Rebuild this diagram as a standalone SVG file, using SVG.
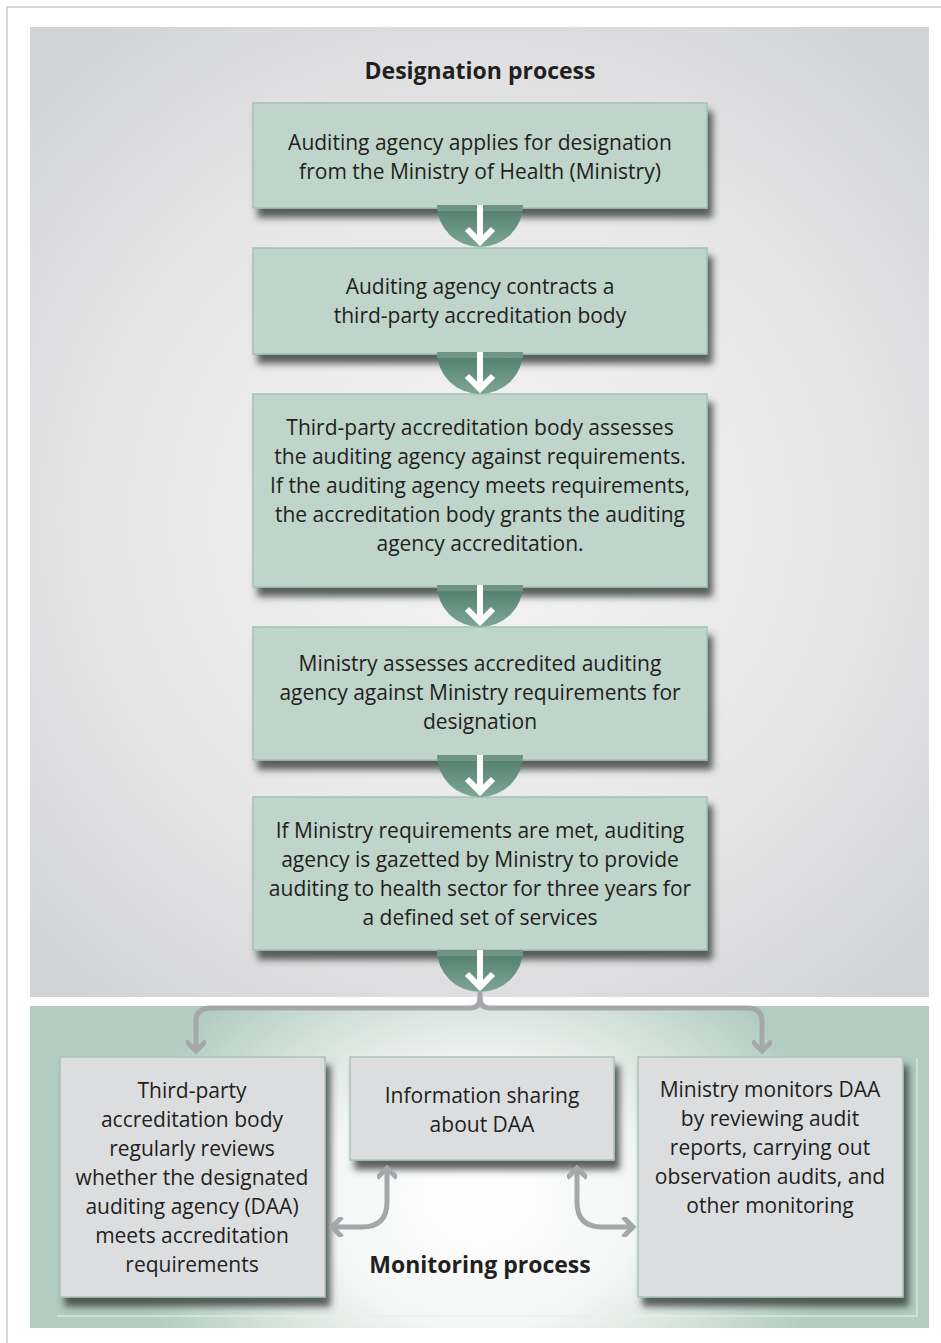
<svg xmlns="http://www.w3.org/2000/svg" width="941" height="1343" viewBox="0 0 941 1343">
<defs>
<radialGradient id="gDes" cx="480" cy="520" r="620" gradientUnits="userSpaceOnUse">
<stop offset="0" stop-color="#f4f4f4"/>
<stop offset="0.6" stop-color="#e6e6e7"/>
<stop offset="1" stop-color="#d2d3d5"/>
</radialGradient>
<radialGradient id="gMon" cx="480" cy="1200" r="360" gradientTransform="translate(480 1200) scale(1 0.8) translate(-480 -1200)" gradientUnits="userSpaceOnUse">
<stop offset="0" stop-color="#ffffff"/>
<stop offset="0.45" stop-color="#f3f6f4"/>
<stop offset="1" stop-color="#b2ccc1"/>
</radialGradient>
<linearGradient id="gSemi" x1="0" y1="0" x2="0" y2="1">
<stop offset="0" stop-color="#4c7a69"/>
<stop offset="0.35" stop-color="#5f8b7a"/>
<stop offset="1" stop-color="#7ea696"/>
</linearGradient>
<filter id="sh" x="-10%" y="-10%" width="125%" height="135%">
<feDropShadow dx="5" dy="9" stdDeviation="3.5" flood-color="#343a37" flood-opacity="0.8"/>
</filter>
<marker id="chev" viewBox="0 0 20 20" refX="12" refY="10" markerWidth="20" markerHeight="20" markerUnits="userSpaceOnUse" orient="auto">
<path d="M2,0 L12,10 L2,20" fill="none" stroke="#a5a8aa" stroke-width="5"/>
</marker>
</defs>
<style>
.box{fill:#bfd4ca;stroke:#a4c1b4;stroke-width:1.5}
.mbox{fill:#dcdddf;stroke:#a8c3b7;stroke-width:1.5}
.t{font-family:"Open Sans","Noto Sans",sans-serif;font-size:21px;fill:#231f20;text-anchor:middle}
.h{font-family:"Open Sans","Noto Sans",sans-serif;font-size:23px;font-weight:bold;fill:#231f20;text-anchor:middle}
.semi{fill:url(#gSemi)}
.arw{fill:none;stroke:#ffffff;stroke-width:6;stroke-linecap:butt}
.conn{fill:none;stroke:#a5a8aa;stroke-width:5}
</style>

<rect x="7" y="7" width="960" height="1360" fill="#ffffff" stroke="#cccccc" stroke-width="1.5"/>
<rect x="30" y="27" width="899" height="970" fill="url(#gDes)"/>
<rect x="30" y="1006" width="899" height="322" fill="url(#gMon)"/>
<path d="M57,1316 H917 V1058" fill="none" stroke="#e6efea" stroke-opacity="0.7" stroke-width="1.5"/>

<text class="h" x="480" y="79">Designation process</text>

<g id="step1">
<rect class="box" x="253" y="103" width="454" height="105" filter="url(#sh)"/>
<text class="t" x="480" y="150">Auditing agency applies for designation</text>
<text class="t" x="480" y="179">from the Ministry of Health (Ministry)</text>
</g>
<g id="step2">
<rect class="box" x="253" y="248" width="454" height="106" filter="url(#sh)"/>
<text class="t" x="480" y="294">Auditing agency contracts a</text>
<text class="t" x="480" y="323">third-party accreditation body</text>
</g>
<g id="step3">
<rect class="box" x="253" y="394" width="454" height="193" filter="url(#sh)"/>
<text class="t" x="480" y="435">Third-party accreditation body assesses</text>
<text class="t" x="480" y="464">the auditing agency against requirements.</text>
<text class="t" x="480" y="493">If the auditing agency meets requirements,</text>
<text class="t" x="480" y="522">the accreditation body grants the auditing</text>
<text class="t" x="480" y="551">agency accreditation.</text>
</g>
<g id="step4">
<rect class="box" x="253" y="627" width="454" height="133" filter="url(#sh)"/>
<text class="t" x="480" y="671">Ministry assesses accredited auditing</text>
<text class="t" x="480" y="700">agency against Ministry requirements for</text>
<text class="t" x="480" y="729">designation</text>
</g>
<g id="step5">
<rect class="box" x="253" y="797" width="454" height="153" filter="url(#sh)"/>
<text class="t" x="480" y="838">If Ministry requirements are met, auditing</text>
<text class="t" x="480" y="867">agency is gazetted by Ministry to provide</text>
<text class="t" x="480" y="896">auditing to health sector for three years for</text>
<text class="t" x="480" y="925">a defined set of services</text>
</g>

<g id="monitor-accreditation">
<rect class="mbox" x="60" y="1057" width="265" height="240" filter="url(#sh)"/>
<text class="t" x="192" y="1098">Third-party</text>
<text class="t" x="192" y="1127">accreditation body</text>
<text class="t" x="192" y="1156">regularly reviews</text>
<text class="t" x="192" y="1185">whether the designated</text>
<text class="t" x="192" y="1214">auditing agency (DAA)</text>
<text class="t" x="192" y="1243">meets accreditation</text>
<text class="t" x="192" y="1272">requirements</text>
</g>
<g id="info-sharing">
<rect class="mbox" x="350" y="1057" width="264" height="103" filter="url(#sh)"/>
<text class="t" x="482" y="1103">Information sharing</text>
<text class="t" x="482" y="1132">about DAA</text>
</g>
<g id="ministry-monitoring">
<rect class="mbox" x="638" y="1057" width="265" height="240" filter="url(#sh)"/>
<text class="t" x="770" y="1097">Ministry monitors DAA</text>
<text class="t" x="770" y="1126">by reviewing audit</text>
<text class="t" x="770" y="1155">reports, carrying out</text>
<text class="t" x="770" y="1184">observation audits, and</text>
<text class="t" x="770" y="1213">other monitoring</text>
</g>

<text class="h" x="480" y="1273">Monitoring process</text>

<g id="connectors">
<g id="c1"><path class="semi" d="M437,205 A43,42 0 0 0 523,205 Z"/><rect x="437" y="205" width="86" height="6" fill="#ffffff" fill-opacity="0.18"/><path class="arw" d="M480,205 V242 M467,229 L480,242 L493,229"/></g>
<g id="c2"><path class="semi" d="M437,352 A43,42 0 0 0 523,352 Z"/><rect x="437" y="352" width="86" height="6" fill="#ffffff" fill-opacity="0.18"/><path class="arw" d="M480,352 V389 M467,376 L480,389 L493,376"/></g>
<g id="c3"><path class="semi" d="M437,585 A43,42 0 0 0 523,585 Z"/><rect x="437" y="585" width="86" height="6" fill="#ffffff" fill-opacity="0.18"/><path class="arw" d="M480,585 V622 M467,609 L480,622 L493,609"/></g>
<g id="c4"><path class="semi" d="M437,755 A43,42 0 0 0 523,755 Z"/><rect x="437" y="755" width="86" height="6" fill="#ffffff" fill-opacity="0.18"/><path class="arw" d="M480,755 V792 M467,779 L480,792 L493,779"/></g>
<g id="c5"><path class="semi" d="M437,950 A43,42 0 0 0 523,950 Z"/><rect x="437" y="950" width="86" height="6" fill="#ffffff" fill-opacity="0.18"/><path class="arw" d="M480,950 V987 M467,974 L480,987 L493,974"/></g>
<path class="conn" d="M480,992 V998 Q480,1008 470,1008 H210 Q196,1008 196,1022 V1051" marker-end="url(#chev)"/>
<path class="conn" d="M480,998 Q480,1008 490,1008 H748 Q762,1008 762,1022 V1051" marker-end="url(#chev)"/>
<path class="conn" d="M362,1227 Q387,1227 387,1202 V1168" marker-end="url(#chev)"/>
<path class="conn" d="M362,1227 H332" marker-end="url(#chev)"/>
<path class="conn" d="M602,1227 Q577,1227 577,1202 V1168" marker-end="url(#chev)"/>
<path class="conn" d="M602,1227 H633" marker-end="url(#chev)"/>
</g>
</svg>
